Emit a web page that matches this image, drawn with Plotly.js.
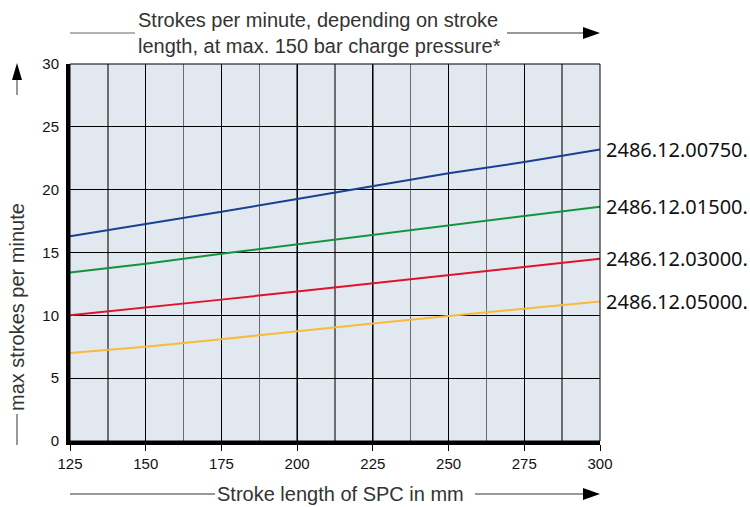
<!DOCTYPE html>
<html><head><meta charset="utf-8">
<script src="https://cdn.plot.ly/plotly-3.0.1.min.js"></script>
<style>html,body{margin:0;padding:0;background:#fff}#chart{width:750px;height:507px}</style>
</head><body><div id="chart"></div>
<script>
const strokeLength = [125, 150, 175, 200, 225, 250, 275, 300];
const series00750 = [16.3, 17.25, 18.25, 19.25, 20.3, 21.3, 22.2, 23.2];
const series01500 = [13.4, 14.1, 14.9, 15.65, 16.35, 17.1, 17.9, 18.65];
const series03000 = [10.0, 10.6, 11.25, 11.9, 12.55, 13.2, 13.85, 14.5];
const series05000 = [7.0, 7.5, 8.1, 8.75, 9.35, 9.95, 10.5, 11.1];
const seriesNames = ['2486.12.00750.', '2486.12.01500.', '2486.12.03000.', '2486.12.05000.'];
const seriesColors = ['#1b3f93', '#13933f', '#e2122c', '#f9b93a'];
const xTicks = [125, 150, 175, 200, 225, 250, 275, 300];
const yTicks = [0, 5, 10, 15, 20, 25, 30];

const allSeries = [series00750, series01500, series03000, series05000];
const traces = allSeries.map((ys, i) => ({
  x: strokeLength, y: ys, type: 'scatter', mode: 'lines', name: seriesNames[i],
  line: {color: seriesColors[i], width: 2}, hoverinfo: 'skip'
}));

const labelAnns = allSeries.map((ys, i) => ({
  x: strokeLength[strokeLength.length - 1], y: ys[ys.length - 1], xref: 'x', yref: 'y',
  text: seriesNames[i], showarrow: false, xanchor: 'left', yanchor: 'middle', xshift: 4,
  font: {family: 'Noto Sans', size: 20, color: '#111'}
}));

const PX = px => (px - 70) / 530;
const PY = py => (441 - py) / 377;
const txtFont = {family: 'Liberation Sans, Arial', size: 20, color: '#333'};

const layout = {
  width: 750, height: 507,
  margin: {l: 70, r: 150, t: 64, b: 66},
  paper_bgcolor: '#ffffff', plot_bgcolor: '#e1e8f0',
  showlegend: false,
  font: {family: 'Liberation Sans, Arial', color: '#111', size: 14},
  xaxis: {
    range: [125, 300], tickvals: xTicks, ticktext: xTicks.map(String),
    showgrid: true, gridcolor: '#000', gridwidth: 1,
    minor: {dtick: 12.5, tick0: 125, showgrid: true, gridcolor: '#6c6c6c', gridwidth: 1.5},
    showline: true, linecolor: '#000', linewidth: 4,
    ticks: 'outside', ticklen: 6, tickcolor: '#000', tickwidth: 1,
    tickfont: {size: 15, color: '#111'}, zeroline: false, fixedrange: true
  },
  yaxis: {
    range: [0, 30], tickvals: yTicks, ticktext: yTicks.map(String),
    showgrid: true, gridcolor: '#000', gridwidth: 1,
    showline: true, linecolor: '#000', linewidth: 4,
    ticks: '', ticklabelstandoff: 4,
    tickfont: {size: 15, color: '#111'}, zeroline: false, fixedrange: true
  },
  shapes: [
    {type: 'rect', xref: 'paper', yref: 'paper', x0: 0, x1: 1, y0: 0, y1: 1, line: {color: '#000', width: 1}},
    {type: 'line', xref: 'paper', yref: 'paper', x0: PX(70), x1: PX(135), y0: PY(33), y1: PY(33), line: {color: '#666', width: 1}},
    {type: 'line', xref: 'paper', yref: 'paper', x0: PX(507), x1: PX(586), y0: PY(33), y1: PY(33), line: {color: '#333', width: 1}},
    {type: 'path', xref: 'paper', yref: 'paper', path: `M ${PX(583)} ${PY(27)} L ${PX(583)} ${PY(39)} L ${PX(600)} ${PY(33)} Z`, fillcolor: '#000', line: {width: 0}},
    {type: 'line', xref: 'paper', yref: 'paper', x0: PX(70), x1: PX(215), y0: PY(494), y1: PY(494), line: {color: '#333', width: 1}},
    {type: 'line', xref: 'paper', yref: 'paper', x0: PX(475), x1: PX(586), y0: PY(494), y1: PY(494), line: {color: '#333', width: 1}},
    {type: 'path', xref: 'paper', yref: 'paper', path: `M ${PX(583)} ${PY(488)} L ${PX(583)} ${PY(500)} L ${PX(600)} ${PY(494)} Z`, fillcolor: '#000', line: {width: 0}},
    {type: 'line', xref: 'paper', yref: 'paper', x0: PX(17), x1: PX(17), y0: PY(95), y1: PY(78), line: {color: '#333', width: 1}},
    {type: 'path', xref: 'paper', yref: 'paper', path: `M ${PX(12)} ${PY(80)} L ${PX(22)} ${PY(80)} L ${PX(17)} ${PY(63)} Z`, fillcolor: '#000', line: {width: 0}},
    {type: 'line', xref: 'paper', yref: 'paper', x0: PX(17), x1: PX(17), y0: PY(445), y1: PY(414), line: {color: '#333', width: 1}}
  ],
  annotations: labelAnns.concat([
    {xref: 'paper', yref: 'paper', x: PX(136), y: PY(20), text: 'Strokes per minute, depending on stroke', showarrow: false, xanchor: 'left', yanchor: 'middle', font: txtFont},
    {xref: 'paper', yref: 'paper', x: PX(136), y: PY(46), text: 'length, at max. 150 bar charge pressure*', showarrow: false, xanchor: 'left', yanchor: 'middle', font: txtFont},
    {xref: 'paper', yref: 'paper', x: PX(215), y: PY(494), text: 'Stroke length of SPC in mm', showarrow: false, xanchor: 'left', yanchor: 'middle', font: txtFont},
    {xref: 'paper', yref: 'paper', x: PX(17), y: PY(413), text: 'max strokes per minute', showarrow: false, textangle: -90, xanchor: 'center', yanchor: 'bottom', font: txtFont}
  ])
};

Plotly.newPlot('chart', traces, layout, {displayModeBar: false, staticPlot: true});
</script></body></html>
